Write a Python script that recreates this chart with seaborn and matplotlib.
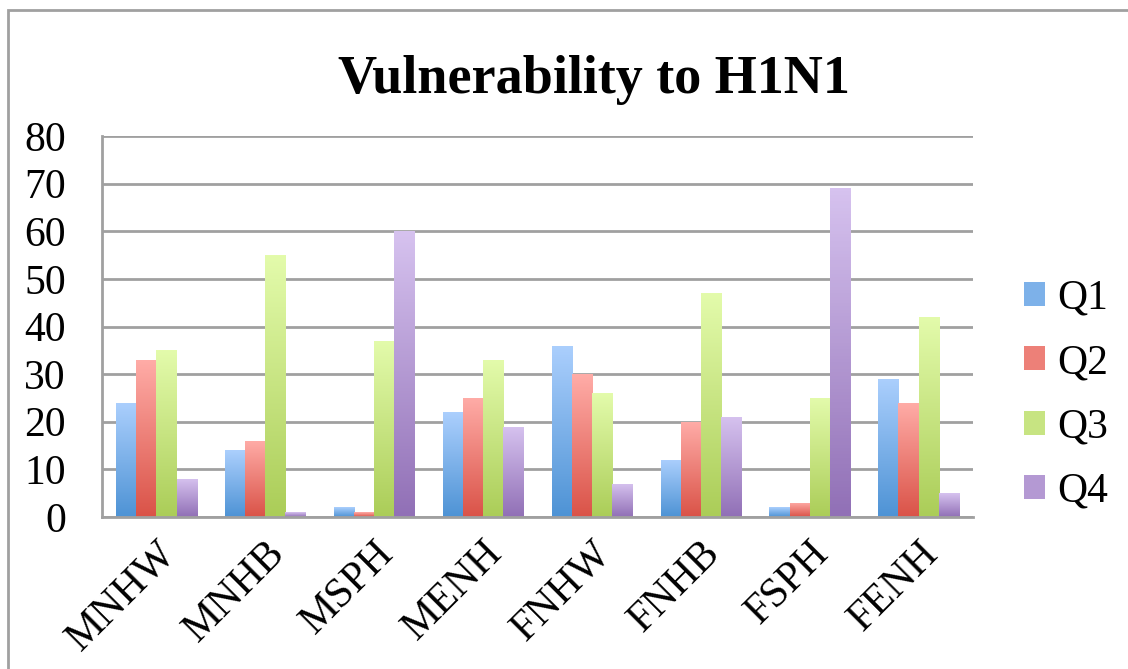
import numpy as np
import pandas as pd
import matplotlib
matplotlib.use("Agg")
import matplotlib.pyplot as plt
from matplotlib.colors import LinearSegmentedColormap
from matplotlib.patches import Rectangle, Patch
import seaborn as sns

categories = ["MNHW", "MNHB", "MSPH", "MENH", "FNHW", "FNHB", "FSPH", "FENH"]
series = ["Q1", "Q2", "Q3", "Q4"]
q1 = [24, 14, 2, 22, 36, 12, 2, 29]
q2 = [33, 16, 1, 25, 30, 20, 3, 24]
q3 = [35, 55, 37, 33, 26, 47, 25, 42]
q4 = [8, 1, 60, 19, 7, 21, 69, 5]
yticks = [0, 10, 20, 30, 40, 50, 60, 70, 80]
title = "Vulnerability to H1N1"

tops = {"Q1": "#abcffd", "Q2": "#ffaca7", "Q3": "#e3fbab", "Q4": "#d6c2ef"}
bottoms = {"Q1": "#4e93d5", "Q2": "#da5348", "Q3": "#abcd58", "Q4": "#9170b6"}
mids = {k: sns.blend_palette([bottoms[k], tops[k]], 3)[1] for k in series}

df = pd.DataFrame({
    "cat": np.repeat(categories, 4),
    "q": series * len(categories),
    "v": np.ravel(np.column_stack([q1, q2, q3, q4])),
})

sns.set_theme(style="white")
plt.rcParams["font.family"] = ["Liberation Serif", "DejaVu Serif"]
plt.rcParams["text.color"] = "black"

fig = plt.figure(figsize=(11.28, 6.69), dpi=100)
ax = fig.add_axes([102 / 1128, 1 - 517 / 669, (973 - 102) / 1128, (517 - 136) / 669])

sns.barplot(data=df, x="cat", y="v", hue="q", order=categories, hue_order=series,
            palette=mids, width=0.74, gap=0, ax=ax, legend=False, saturation=1)

# gradient fill for bars
for container, q in zip(ax.containers, series):
    cmap = LinearSegmentedColormap.from_list(q, [bottoms[q], tops[q]])
    for patch in container.patches:
        x0, y0 = patch.get_x(), patch.get_y()
        w, h = patch.get_width(), patch.get_height()
        if h <= 0:
            continue
        grad = np.linspace(0, 1, 100).reshape(-1, 1)
        im = ax.imshow(grad, extent=[x0, x0 + w, y0, y0 + h], origin="lower",
                       cmap=cmap, aspect="auto", zorder=2)
        im.set_clip_path(patch)
        patch.set_alpha(0)

ax.set_xlim(-0.5, len(categories) - 0.5)
ax.set_ylim(0, 80)
ax.set_yticks(yticks)
ax.yaxis.grid(True, color="#a0a0a0", linewidth=2)
ax.set_axisbelow(True)
for s in ["top", "right"]:
    ax.spines[s].set_visible(False)
for s in ["left", "bottom"]:
    ax.spines[s].set_color("#a0a0a0")
    ax.spines[s].set_linewidth(2)
ax.set_xlabel("")
ax.set_ylabel("")
ax.tick_params(axis="both", length=0, labelsize=30, colors="black")
ax.tick_params(axis="y", pad=26)
ax.tick_params(axis="x", pad=12)
for lbl in ax.get_xticklabels():
    lbl.set_rotation(45)
    lbl.set_ha("right")
    lbl.set_rotation_mode("anchor")

fig.text(594 / 1128, 1 - 80 / 669, title, ha="center", va="center",
         fontsize=39, fontweight="bold", color="black")

# legend
handles = [Patch(facecolor=mids[q], edgecolor="none") for q in series]
fig.legend(handles, series, loc="center left", bbox_to_anchor=(1024 / 1128, 1 - 395 / 669),
           frameon=False, fontsize=30, handlelength=0.5, handleheight=0.5,
           labelspacing=0.62, handletextpad=0.3, borderpad=0, borderaxespad=0,
           labelcolor="black")

# outer border
fig.add_artist(Rectangle((8 / 1128, -0.05), 1.1, 1 - 10 / 669 + 0.05, transform=fig.transFigure,
                         fill=False, edgecolor="#a0a0a0", linewidth=2))

fig.savefig("out.png", dpi=100)
